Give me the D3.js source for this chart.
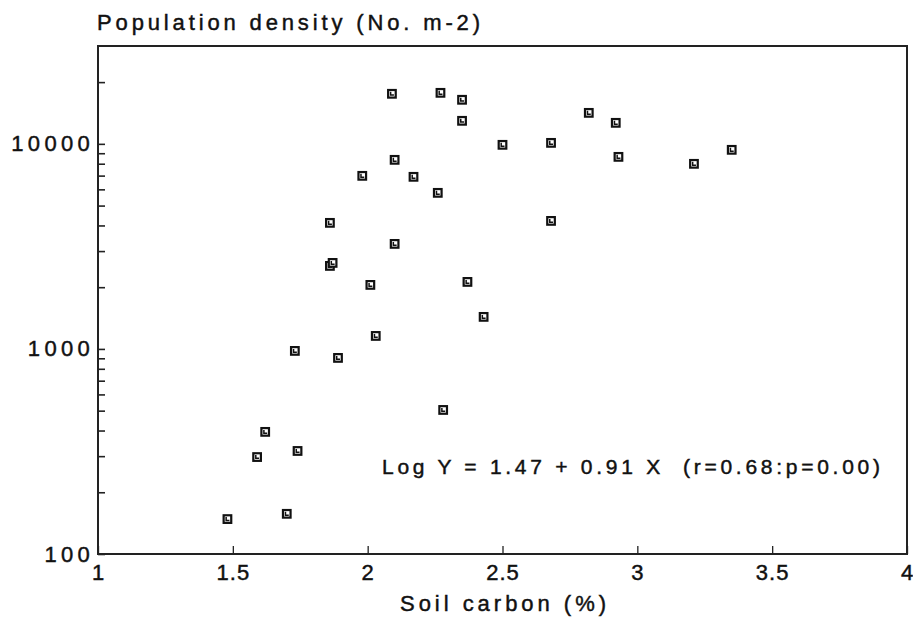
<!DOCTYPE html>
<html>
<head>
<meta charset="utf-8">
<script src="https://cdn.jsdelivr.net/npm/d3@7.9.0/dist/d3.min.js"></script>
<style>
  body { margin: 0; background: #fff; }
  svg text { font-family: "Liberation Sans", Arial, sans-serif; fill: #111; stroke: #111; stroke-width: 0.45px; }
</style>
</head>
<body>
<svg id="chart" width="913" height="636"></svg>
<script>
// soil carbon (%) and population density (No. m-2)
const carbon = [1.48, 1.70, 1.59, 1.62, 1.74, 1.73, 1.89, 2.03, 2.01, 1.86, 1.87, 1.86,
  2.10, 1.98, 2.17, 2.10, 2.09, 2.27, 2.35, 2.35, 2.26, 2.37, 2.43, 2.28,
  2.50, 2.68, 2.68, 2.82, 2.92, 2.93, 3.21, 3.35];
const density = [148, 157, 297, 394, 318, 978, 904, 1157, 2052, 2540, 2627, 4118,
  3252, 6982, 6905, 8356, 17540, 17730, 16400, 12950, 5768, 2122, 1433, 504,
  9890, 10110, 4210, 14160, 12660, 8640, 7990, 9350];

const xTicks = [1, 1.5, 2, 2.5, 3, 3.5, 4];
const yLabelled = [100, 1000, 10000];
const yTicks = [100, 200, 300, 400, 500, 600, 700, 800, 900,
  1000, 2000, 3000, 4000, 5000, 6000, 7000, 8000, 9000, 10000, 20000];

const titleText = 'Population density (No. m-2)';
const xTitle = 'Soil carbon (%)';
const fitText = 'Log Y = 1.47 + 0.91 X\u00a0\u00a0(r=0.68:p=0.00)';

const svg = d3.select('#chart');
const mLeft = 98, mRight = 907, mTop = 46, mBottom = 554;

const x = d3.scaleLinear().domain([1, 4]).range([mLeft, mRight]);
const y = d3.scaleLog().domain([100, 30000]).range([mBottom, mTop]);

// y axis, ticks pointing in
const yAxis = svg.append('g')
  .attr('transform', `translate(${mLeft},0)`)
  .call(d3.axisLeft(y)
    .tickValues(yTicks)
    .tickSizeInner(-7)
    .tickSizeOuter(0)
    .tickPadding(8)
    .tickFormat(d => yLabelled.includes(d) ? d : ''));
yAxis.select('.domain').remove();
yAxis.selectAll('.tick line').attr('stroke', '#222').attr('stroke-width', 1.6);
yAxis.selectAll('.tick text')
  .style('font-size', '22px')
  .style('letter-spacing', '4.3px')
  .attr('dx', '4px');

// x axis
const xAxis = svg.append('g')
  .attr('transform', `translate(0,${mBottom})`)
  .call(d3.axisBottom(x)
    .tickValues(xTicks)
    .tickSizeInner(-8)
    .tickSizeOuter(0)
    .tickPadding(10)
    .tickFormat(d3.format('')));
xAxis.select('.domain').remove();
xAxis.selectAll('.tick line').attr('stroke', '#222').attr('stroke-width', 1.3);
xAxis.selectAll('.tick text')
  .style('font-size', '22px')
  .style('letter-spacing', '1px');

// frame
svg.append('rect')
  .attr('x', mLeft).attr('y', mTop)
  .attr('width', mRight - mLeft).attr('height', mBottom - mTop)
  .attr('fill', 'none')
  .attr('stroke', '#222')
  .attr('stroke-width', 2);

// points
const pts = svg.append('g')
  .selectAll('g')
  .data(carbon.map((c, i) => ({ c, d: density[i] })))
  .join('g')
  .attr('transform', p => `translate(${x(p.c)},${y(p.d)})`);

pts.append('rect')
  .attr('x', -3.8).attr('y', -3.8)
  .attr('width', 7.6).attr('height', 7.6)
  .attr('fill', '#fff')
  .attr('stroke', '#111')
  .attr('stroke-width', 2.2);
pts.append('path')
  .attr('d', 'M-1.3,-2V1.3H2')
  .attr('fill', 'none')
  .attr('stroke', '#111')
  .attr('stroke-width', 1.5);

// texts
svg.append('text')
  .attr('x', 97).attr('y', 30)
  .attr('textLength', 383)
  .style('font-size', '22px')
  .text(titleText);

svg.append('text')
  .attr('x', 400).attr('y', 611)
  .attr('textLength', 206)
  .style('font-size', '22px')
  .text(xTitle);

svg.append('text')
  .attr('x', 382).attr('y', 474)
  .attr('textLength', 498)
  .style('font-size', '21px')
  .text(fitText);
</script>
</body>
</html>
